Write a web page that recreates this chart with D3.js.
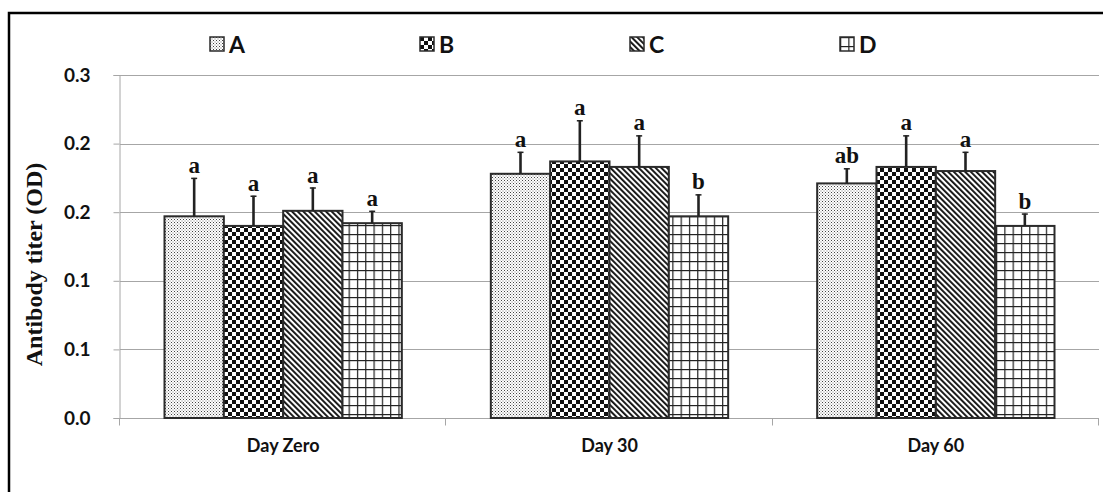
<!DOCTYPE html>
<html>
<head>
<meta charset="utf-8">
<script src="https://cdn.jsdelivr.net/npm/d3@7"></script>
<style>
  html, body { margin: 0; padding: 0; background: #fff; }
  svg { display: block; }
</style>
</head>
<body>
<svg id="chart" width="1103" height="492"></svg>
<script>
// Antibody titer (OD) by group and sampling day
const categories = ["Day Zero", "Day 30", "Day 60"];
const seriesNames = ["A", "B", "C", "D"];

const valuesA = [0.147, 0.178, 0.171];
const valuesB = [0.140, 0.187, 0.183];
const valuesC = [0.151, 0.183, 0.180];
const valuesD = [0.142, 0.147, 0.140];

// upper error (SE) for each bar
const errorsA = [0.028, 0.016, 0.011];
const errorsB = [0.022, 0.030, 0.023];
const errorsC = [0.017, 0.023, 0.014];
const errorsD = [0.009, 0.016, 0.009];

// significance letters
const lettersA = ["a", "a", "ab"];
const lettersB = ["a", "a", "a"];
const lettersC = ["a", "a", "a"];
const lettersD = ["a", "b", "b"];

const yTickValues = [0, 0.05, 0.10, 0.15, 0.20, 0.25];
const yTickLabels = ["0.0", "0.1", "0.1", "0.2", "0.2", "0.3"];

const yTitle = "Antibody titer (OD)";

const seriesValues = [valuesA, valuesB, valuesC, valuesD];
const seriesErrors = [errorsA, errorsB, errorsC, errorsD];
const seriesLetters = [lettersA, lettersB, lettersC, lettersD];

const rows = [];
categories.forEach((cat, ci) => {
  seriesNames.forEach((s, si) => {
    rows.push({
      cat, series: s,
      value: seriesValues[si][ci],
      err: seriesErrors[si][ci],
      letter: seriesLetters[si][ci]
    });
  });
});

const svg = d3.select("#chart");
const plot = { left: 120, right: 1099, top: 75, bottom: 418 };
const sansFont = "Lato, 'Open Sans', sans-serif";
const serifFont = "'Liberation Serif', 'Times New Roman', serif";

// fill patterns for the four groups
const defs = svg.append("defs");

const pA = defs.append("pattern").attr("id", "pat-A")
  .attr("patternUnits", "userSpaceOnUse").attr("width", 3).attr("height", 3);
pA.append("rect").attr("width", 3).attr("height", 3).attr("fill", "#fff");
pA.append("rect").attr("x", 0).attr("y", 0).attr("width", 1).attr("height", 1).attr("fill", "#444");
pA.append("rect").attr("x", 1.5).attr("y", 1.5).attr("width", 1).attr("height", 1).attr("fill", "#777");

const pB = defs.append("pattern").attr("id", "pat-B")
  .attr("patternUnits", "userSpaceOnUse").attr("width", 8).attr("height", 8);
pB.append("rect").attr("width", 8).attr("height", 8).attr("fill", "#fff");
pB.append("rect").attr("x", 0).attr("y", 0).attr("width", 4).attr("height", 4).attr("fill", "#111");
pB.append("rect").attr("x", 4).attr("y", 4).attr("width", 4).attr("height", 4).attr("fill", "#111");

const pC = defs.append("pattern").attr("id", "pat-C")
  .attr("patternUnits", "userSpaceOnUse").attr("width", 4).attr("height", 4)
  .attr("patternTransform", "rotate(-45)");
pC.append("rect").attr("width", 4).attr("height", 4).attr("fill", "#fff");
pC.append("rect").attr("x", 0).attr("y", 0).attr("width", 1.9).attr("height", 4).attr("fill", "#111");

const pD = defs.append("pattern").attr("id", "pat-D")
  .attr("patternUnits", "userSpaceOnUse").attr("width", 8.3).attr("height", 9);
pD.append("rect").attr("width", 8.3).attr("height", 9).attr("fill", "#fff");
pD.append("rect").attr("x", 0).attr("y", 0).attr("width", 1.2).attr("height", 9).attr("fill", "#222");
pD.append("rect").attr("x", 0).attr("y", 0).attr("width", 8.3).attr("height", 1.2).attr("fill", "#222");

const fillFor = s => `url(#pat-${s})`;

// scales
const x0 = d3.scaleBand().domain(categories).range([plot.left, plot.right]).paddingInner(0).paddingOuter(0);
const gapRatio = 1.5; // gap between groups, relative to one bar
const groupW = x0.bandwidth() * 4 / (4 + gapRatio);
const x1 = d3.scaleBand().domain(seriesNames).range([0, groupW]).padding(0);
const groupOffset = (x0.bandwidth() - groupW) / 2;

const y = d3.scaleLinear().domain([0, 0.25]).range([plot.bottom, plot.top]);

// outer frame
svg.append("rect")
  .attr("x", 9).attr("y", 13).attr("width", 1120).attr("height", 500)
  .attr("fill", "none").attr("stroke", "#000").attr("stroke-width", 2.5);

// gridlines
svg.append("g")
  .selectAll("line")
  .data(yTickValues.filter(v => v > 0))
  .join("line")
  .attr("x1", plot.left).attr("x2", plot.right)
  .attr("y1", d => Math.round(y(d)) + 0.5).attr("y2", d => Math.round(y(d)) + 0.5)
  .attr("stroke", "#a6a6a6").attr("stroke-width", 1);

// y axis
const yAxis = d3.axisLeft(y)
  .tickValues(yTickValues)
  .tickFormat((d, i) => yTickLabels[i])
  .tickSize(6).tickPadding(23);
const gy = svg.append("g").attr("transform", `translate(${plot.left - 0.5},0)`).call(yAxis);
gy.select(".domain").attr("stroke", "#a6a6a6");
gy.selectAll(".tick line").attr("stroke", "#a6a6a6");
gy.selectAll(".tick text")
  .attr("fill", "#111")
  .style("font-family", sansFont)
  .style("font-weight", "700")
  .style("font-size", "19px");

// x axis
const xAxis = d3.axisBottom(x0).tickSize(0).tickPadding(21);
const gx = svg.append("g").attr("transform", `translate(0,${plot.bottom + 0.5})`).call(xAxis);
gx.select(".domain").attr("stroke", "#a6a6a6").attr("d", `M${plot.left},0H${plot.right}`);
gx.selectAll(".tick text")
  .attr("fill", "#111")
  .style("font-family", sansFont)
  .style("font-weight", "700")
  .style("font-size", "18px");
// category boundary ticks
const boundaries = categories.map(c => x0(c)).concat([x0(categories[categories.length - 1]) + x0.bandwidth()]);
gx.selectAll(".bound")
  .data(boundaries)
  .join("line")
  .attr("class", "bound")
  .attr("x1", d => Math.round(d) - 0.5).attr("x2", d => Math.round(d) - 0.5)
  .attr("y1", 0).attr("y2", 7)
  .attr("stroke", "#a6a6a6");

// bars
const bx = d => x0(d.cat) + groupOffset + x1(d.series);
svg.append("g")
  .selectAll("rect")
  .data(rows)
  .join("rect")
  .attr("x", d => bx(d))
  .attr("y", d => y(d.value))
  .attr("width", x1.bandwidth())
  .attr("height", d => y(0) - y(d.value))
  .attr("fill", d => fillFor(d.series))
  .attr("stroke", "#2b2b2b")
  .attr("stroke-width", 2);

// error bars (upper only)
const eb = svg.append("g").attr("stroke", "#222");
eb.selectAll("line.stem")
  .data(rows)
  .join("line")
  .attr("class", "stem")
  .attr("x1", d => bx(d) + x1.bandwidth() / 2)
  .attr("x2", d => bx(d) + x1.bandwidth() / 2)
  .attr("y1", d => y(d.value))
  .attr("y2", d => y(d.value + d.err))
  .attr("stroke-width", 2.6);
eb.selectAll("line.cap")
  .data(rows)
  .join("line")
  .attr("class", "cap")
  .attr("x1", d => bx(d) + x1.bandwidth() / 2 - 3)
  .attr("x2", d => bx(d) + x1.bandwidth() / 2 + 3)
  .attr("y1", d => y(d.value + d.err) + 0.5)
  .attr("y2", d => y(d.value + d.err) + 0.5)
  .attr("stroke-width", 1.5);

// significance letters
svg.append("g")
  .selectAll("text")
  .data(rows)
  .join("text")
  .attr("x", d => bx(d) + x1.bandwidth() / 2)
  .attr("y", d => y(d.value + d.err) - 5)
  .attr("text-anchor", "middle")
  .attr("fill", "#111")
  .style("font-family", serifFont)
  .style("font-weight", "700")
  .style("font-size", "23px")
  .text(d => d.letter);

// y axis title
svg.append("text")
  .attr("transform", `translate(42,${(plot.top + plot.bottom) / 2 + 18}) rotate(-90)`)
  .attr("text-anchor", "middle")
  .attr("fill", "#111")
  .style("font-family", serifFont)
  .style("font-weight", "700")
  .style("font-size", "24px")
  .text(yTitle);

// legend
const legendX = d3.scalePoint().domain(seriesNames).range([210, 840]);
const lg = svg.append("g")
  .selectAll("g")
  .data(seriesNames)
  .join("g")
  .attr("transform", d => `translate(${legendX(d)},37)`);
lg.append("rect")
  .attr("width", 14).attr("height", 14)
  .attr("fill", d => fillFor(d))
  .attr("stroke", "#2b2b2b").attr("stroke-width", 1.5);
lg.append("text")
  .attr("x", 19).attr("y", 16)
  .attr("fill", "#111")
  .style("font-family", sansFont)
  .style("font-weight", "700")
  .style("font-size", "23px")
  .text(d => d);
</script>
</body>
</html>
